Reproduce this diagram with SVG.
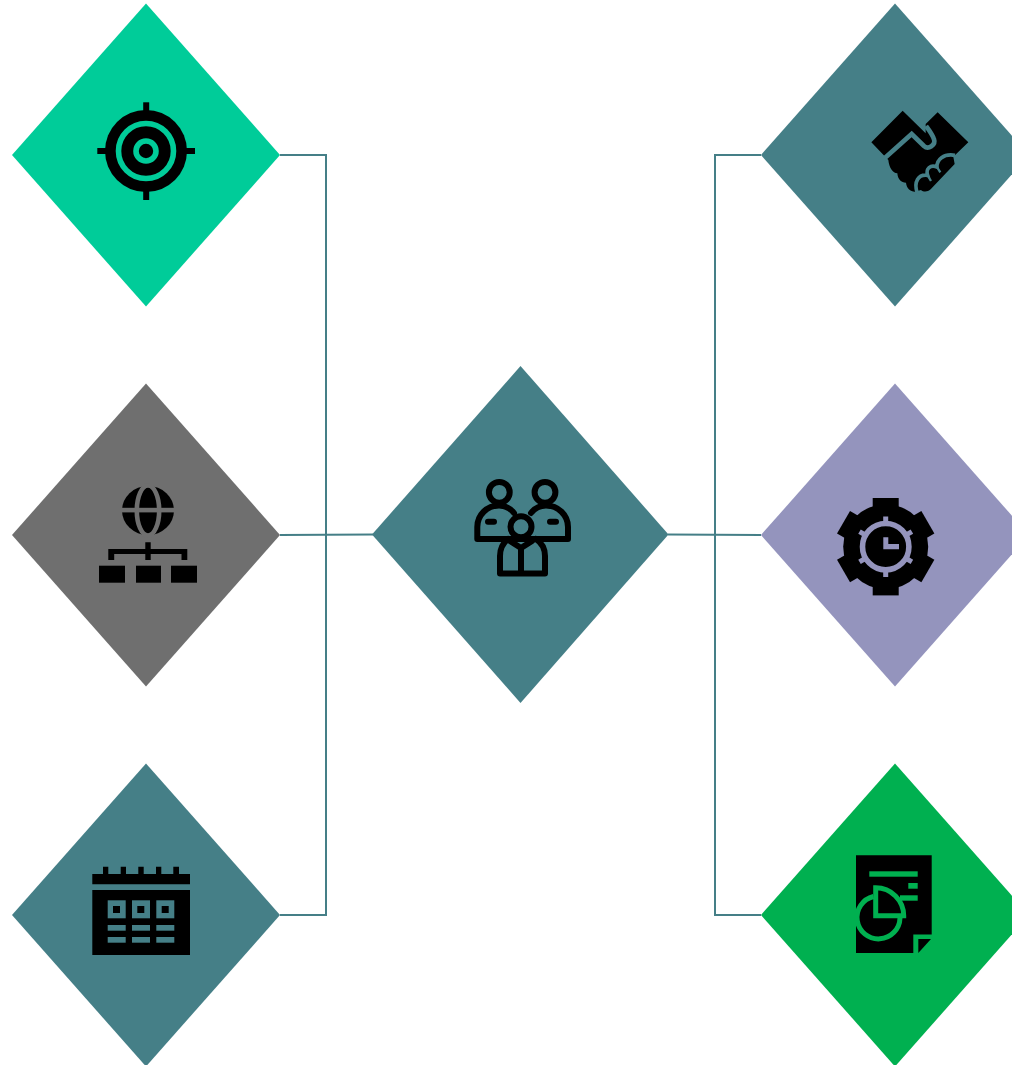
<svg xmlns="http://www.w3.org/2000/svg" width="1012" height="1065" viewBox="0 0 1012 1065">
<style>
.conn{fill:none;stroke:#457f87;stroke-width:2}
.k{fill:#000}
.tl{fill:#457f87}
.pp{fill:none;stroke:#000;stroke-width:6;stroke-linecap:round;stroke-linejoin:round}
</style>
<rect width="1012" height="1065" fill="#fff"/>
<g id="connectors">
<path class="conn" d="M280 155H326V915H280"/>
<path class="conn" d="M280 535L373 534.5"/>
<path class="conn" d="M761 155H715V915H761"/>
<path class="conn" d="M668 534.5L761 535"/>
</g>
<g id="node-target">
<polygon points="146,3.5 280,155 146,306.5 12,155" fill="#00cc99"/>
<rect class="k" x="143.2" y="102.3" width="6" height="97.7"/>
<rect class="k" x="97.3" y="148" width="97.7" height="6"/>
<circle class="k" cx="146" cy="151" r="41"/>
<circle cx="146" cy="151" r="27.5" fill="none" stroke="#00cc99" stroke-width="5.6"/>
<circle cx="146" cy="151" r="10" fill="none" stroke="#00cc99" stroke-width="5.6"/>
</g>
<g id="node-network">
<polygon points="146,383.5 280,535 146,686.5 12,535" fill="#6f6f6f"/>
<ellipse class="k" cx="148" cy="510.5" rx="26" ry="24.5"/>
<ellipse cx="148" cy="510.5" rx="11.2" ry="25" fill="none" stroke="#6f6f6f" stroke-width="4.6"/>
<rect x="120" y="507.8" width="56" height="4.6" fill="#6f6f6f"/>
<path class="k" d="M145.3 542.3H150.7V549H187.3V560H181.5V554H150.7V560H145.3V554H114.2V560H108.3V549H145.3Z"/>
<rect class="k" x="99" y="565.7" width="26" height="17"/>
<rect class="k" x="136" y="565.7" width="25" height="17"/>
<rect class="k" x="171" y="565.7" width="26" height="17"/>
</g>
<g id="node-calendar">
<polygon points="146,763.5 280,915 146,1066.5 12,915" fill="#457f87"/>
<path class="k" d="M92.3 874H103V866.7H108.3V874H120.7V866.7H126V874H138.3V866.7H143.7V874H156V866.7H161.3V874H173.3V866.7H179V874H190V884.3H92.3Z"/>
<rect class="k" x="92.3" y="890" width="97.7" height="65"/>
<rect class="tl" x="107.7" y="900.3" width="18" height="18"/>
<rect class="tl" x="132" y="900.3" width="18" height="18"/>
<rect class="tl" x="156.3" y="900.3" width="18" height="18"/>
<rect class="k" x="113" y="906" width="7" height="7"/>
<rect class="k" x="137.3" y="906" width="7" height="7"/>
<rect class="k" x="161.7" y="906" width="7" height="7"/>
<rect class="tl" x="107.7" y="925" width="18" height="5.7"/>
<rect class="tl" x="132" y="925" width="18" height="5.7"/>
<rect class="tl" x="156.3" y="925" width="18" height="5.7"/>
<rect class="tl" x="107.7" y="937" width="18" height="5.7"/>
<rect class="tl" x="132" y="937" width="18" height="5.7"/>
<rect class="tl" x="156.3" y="937" width="18" height="5.7"/>
</g>
<g id="node-team">
<polygon points="520.5,366 668.5,534.5 520.5,703 372,534.5" fill="#457f87"/>
<circle class="pp" cx="499.3" cy="492.3" r="10.4"/>
<circle class="pp" cx="545" cy="492.3" r="10.4"/>
<path class="pp" d="M514 513C510 508 505 505.5 499 505.5C487 505.5 477.3 515 477.3 527V539H568V527C568 515 558 505.5 546 505.5C540 505.5 535 508 531 513"/>
<path class="pp" d="M488 521.7H494M550 521.7H556"/>
<path class="pp" d="M508 539C503 543 500 549 500 556V573.5H545V556C545 549 542 543 536 539"/>
<path class="pp" d="M510 541L521 548L532 541M521 548V573"/>
<circle class="pp" cx="521" cy="526.7" r="10.5" style="fill:#457f87"/>
</g>
<g id="node-handshake">
<polygon points="895,3.5 1029,155 895,306.5 761,155" fill="#457f87"/>
<g transform="translate(860 100) scale(.3333)">
<path class="k" d="M34 127L128 32L197 100V72L233 37L325 127L280 170L284 192L212 268C202 277 190 276 183 270L165 275C150 274 140 265 138 248C124 248 113 238 112 220C98 218 88 205 85 180Z"/>
<path d="M72 176L155 102L192 138C205 150 228 135 222 118C218 105 208 92 198 78" fill="none" stroke="#457f87" stroke-width="14"/>
<path d="M172 280C160 245 175 222 203 226C196 205 212 193 231 201C230 180 250 160 285 166" fill="none" stroke="#457f87" stroke-width="11"/>
<path d="M203 226L213 243M231 201L241 217" fill="none" stroke="#457f87" stroke-width="7"/>
</g>
</g>
<g id="node-clock-gear">
<polygon points="895,383.5 1029,535 895,686.5 761,535" fill="#9494bd"/>
<circle class="k" cx="885.7" cy="546.7" r="42.5"/>
<g class="k">
<rect x="872.7" y="498" width="26" height="97.4"/>
<rect x="872.7" y="498" width="26" height="97.4" transform="rotate(60 885.7 546.7)"/>
<rect x="872.7" y="498" width="26" height="97.4" transform="rotate(120 885.7 546.7)"/>
</g>
<circle class="k" cx="885.7" cy="546.7" r="34"/>
<circle cx="885.7" cy="546.7" r="23.2" fill="none" stroke="#9494bd" stroke-width="5.6"/>
<path d="M885.7 516.5V524M885.7 569.5V577M859.5 531.6L866 535.4M905.4 558L911.9 561.8M859.5 561.8L866 558M905.4 535.4L911.9 531.6" fill="none" stroke="#9494bd" stroke-width="5"/>
<path d="M883.3 537.3H888.3V544H899V549.3H883.3Z" fill="#9494bd"/>
</g>
<g id="node-report">
<polygon points="895,763.5 1029,915 895,1066.5 761,915" fill="#00b050"/>
<polygon class="k" points="856,855.3 931.7,855.3 931.7,934.5 913.3,934.5 913.3,953 856,953"/>
<polygon class="k" points="918.3,939 931,939 918.3,953"/>
<rect x="869.3" y="871.3" width="48.4" height="5.4" fill="#00b050"/>
<rect x="908.3" y="883" width="9.4" height="5.7" fill="#00b050"/>
<rect x="900" y="895.3" width="17.7" height="5.4" fill="#00b050"/>
<path d="M873.5 896.5A21.5 21.5 0 1 0 900 918" fill="none" stroke="#00b050" stroke-width="5"/>
<path d="M875.7 915.7V887.7A28 28 0 0 1 903.7 915.7Z" fill="none" stroke="#00b050" stroke-width="5"/>
</g>
</svg>
